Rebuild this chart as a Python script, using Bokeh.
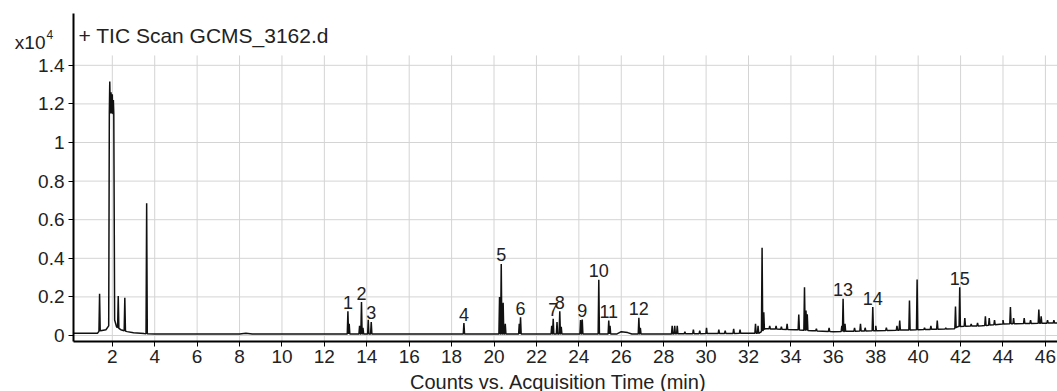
import numpy as np
from bokeh.plotting import figure
from bokeh.models import Range1d, FixedTicker, NumeralTickFormatter, Label, LinearAxis
from bokeh.embed import file_html
from bokeh.resources import INLINE
from bokeh.core.properties import value

# ---- data (time in min, counts in x10^4) ----
baseline_time = [0.17, 1.30, 1.36, 1.45, 1.70, 1.83, 1.86, 2.07, 2.11, 2.20, 2.40, 2.70,
                 3.00, 3.50, 4.00, 8.00, 8.30, 8.60, 13.0, 20.0, 25.8, 26.0, 26.3, 26.5,
                 28.0, 32.5, 32.8, 34.2, 35.0, 36.0, 38.0, 40.0, 41.7, 41.9, 43.0, 44.0, 46.6]
baseline_level = [0.012, 0.012, 0.02, 0.025, 0.03, 0.05, 1.15, 1.15, 0.08, 0.045, 0.03, 0.02,
                  0.014, 0.01, 0.008, 0.008, 0.011, 0.008, 0.008, 0.008, 0.008, 0.02, 0.015, 0.008,
                  0.008, 0.012, 0.035, 0.03, 0.025, 0.02, 0.025, 0.03, 0.035, 0.047, 0.05, 0.06, 0.065]

peak_time = [1.40, 1.88, 1.94, 2.00, 2.05, 2.28, 2.59, 3.62,
             13.11, 13.17, 13.66, 13.75, 13.82, 14.07, 14.21, 18.58,
             20.26, 20.34, 20.43, 20.53, 21.19, 21.25, 22.72, 22.79, 22.97, 23.10, 23.17,
             24.08, 24.16, 24.94, 25.41, 25.47, 26.83, 26.90, 28.40, 28.52, 28.64,
             29.00, 29.40, 29.70, 30.02, 30.60, 30.90, 31.30, 31.60, 32.33, 32.45, 32.64, 32.72,
             33.00, 33.30, 33.55, 33.82, 34.37, 34.64, 34.71, 34.77, 35.20, 35.80,
             36.40, 36.46, 36.55, 37.00, 37.28, 37.50, 37.86, 38.00, 38.50, 39.00, 39.13,
             39.59, 39.95, 40.30, 40.60, 40.90, 41.30, 41.76, 41.96, 42.20, 42.50, 42.80,
             43.17, 43.35, 43.60, 44.00, 44.35, 44.50, 45.00, 45.30, 45.69, 45.80, 46.10, 46.40]
peak_height = [0.216, 1.316, 1.26, 1.25, 1.22, 0.204, 0.195, 0.685,
               0.126, 0.06, 0.05, 0.173, 0.04, 0.081, 0.07, 0.064,
               0.20, 0.371, 0.17, 0.06, 0.06, 0.095, 0.05, 0.086, 0.07, 0.126, 0.045,
               0.08, 0.083, 0.289, 0.078, 0.05, 0.092, 0.04, 0.05, 0.05, 0.05,
               0.02, 0.03, 0.025, 0.04, 0.03, 0.025, 0.035, 0.03, 0.06, 0.05, 0.454, 0.12,
               0.05, 0.05, 0.045, 0.06, 0.109, 0.25, 0.13, 0.11, 0.035, 0.04,
               0.05, 0.19, 0.06, 0.04, 0.06, 0.04, 0.147, 0.05, 0.04, 0.05, 0.078,
               0.181, 0.29, 0.04, 0.05, 0.077, 0.04, 0.15, 0.25, 0.09, 0.06, 0.065,
               0.10, 0.09, 0.08, 0.08, 0.147, 0.09, 0.09, 0.08, 0.135, 0.10, 0.08, 0.08]

annot_text = [str(i) for i in range(1, 16)]
annot_time = [13.11, 13.75, 14.21, 18.58, 20.34, 21.25, 22.79, 23.10, 24.16, 24.94,
              25.41, 26.83, 36.46, 37.86, 41.96]

x_ticks = list(range(2, 48, 2))
y_ticks = [0, 0.2, 0.4, 0.6, 0.8, 1.0, 1.2, 1.4]

# ---- build trace: baseline knots + narrow triangular peaks ----
half = 0.03
bt = np.array(baseline_time)
bl = np.array(baseline_level)
pts = list(zip(baseline_time, baseline_level))
for t, h in zip(peak_time, peak_height):
    pts.append((t - half, float(np.interp(t - half, bt, bl))))
    pts.append((t, h))
    pts.append((t + half, float(np.interp(t + half, bt, bl))))
pts.sort(key=lambda v: v[0])
trace_t = [v[0] for v in pts]
trace_y = [v[1] for v in pts]

height_of = dict(zip(peak_time, peak_height))
annot_height = [height_of[t] for t in annot_time]

# ---- figure: frame covers the whole canvas, axes at fixed locations ----
FONT = "Liberation Sans"
TXT = "#222222"
x_axis_start, x_axis_end = 0.17, 46.57
y_axis_start, y_axis_end = -0.0295, 1.668
grid_top = 1.451

p = figure(width=1057, height=391,
           x_range=Range1d(-3.272, 46.57), y_range=Range1d(-0.2902, 1.7358),
           x_axis_type=None, y_axis_type=None,
           output_backend="svg", toolbar_location=None,
           min_border_left=0, min_border_right=0, min_border_top=0, min_border_bottom=0)
p.outline_line_color = None
p.background_fill_color = "white"
p.border_fill_color = "white"
p.xgrid.visible = False
p.ygrid.visible = False

# grid lines (only inside the plotting area)
p.segment(x0=x_ticks, y0=[y_axis_start] * len(x_ticks), x1=x_ticks, y1=[grid_top] * len(x_ticks),
          line_color="#d4d4d4", line_width=1)
p.segment(x0=[x_axis_start] * len(y_ticks), y0=y_ticks, x1=[x_axis_end] * len(y_ticks), y1=y_ticks,
          line_color="#d4d4d4", line_width=1)

xaxis = LinearAxis(fixed_location=y_axis_start, bounds=(x_axis_start, x_axis_end),
                   ticker=FixedTicker(ticks=x_ticks))
yaxis = LinearAxis(fixed_location=x_axis_start, bounds=(y_axis_start, y_axis_end),
                   ticker=FixedTicker(ticks=y_ticks),
                   formatter=NumeralTickFormatter(format="0.[0]"))
for ax in (xaxis, yaxis):
    ax.axis_line_color = "black"
    ax.axis_line_width = 2
    ax.major_tick_line_color = "black"
    ax.major_tick_line_width = 1
    ax.major_tick_in = 0
    ax.major_tick_out = 5
    ax.minor_tick_line_color = None
    ax.major_label_text_font = FONT
    ax.major_label_text_font_size = "19px"
    ax.major_label_text_color = TXT
    ax.major_label_standoff = 4
p.add_layout(xaxis, "below")
p.add_layout(yaxis, "left")

p.line(trace_t, trace_y, line_color="#111111", line_width=1.5)

p.text(x=annot_time, y=annot_height, text=annot_text, text_align="center",
       text_baseline="alphabetic", y_offset=-9, text_font=value(FONT),
       text_font_size="18px", text_color=TXT)

p.add_layout(Label(x=78, y=356, x_units="screen", y_units="screen", text="+ TIC Scan GCMS_3162.d",
                   text_baseline="middle", text_font=FONT, text_font_size="21px", text_color=TXT))
p.add_layout(Label(x=45, y=349, x_units="screen", y_units="screen", text="x10",
                   text_align="right", text_baseline="middle", text_font=FONT,
                   text_font_size="19px", text_color=TXT))
p.add_layout(Label(x=46, y=357, x_units="screen", y_units="screen", text="4",
                   text_align="left", text_baseline="middle", text_font=FONT,
                   text_font_size="12px", text_color=TXT))
p.add_layout(Label(x=558, y=10, x_units="screen", y_units="screen",
                   text="Counts vs. Acquisition Time (min)", text_align="center",
                   text_baseline="middle", text_font=FONT, text_font_size="20px",
                   text_color=TXT))

open("out.html", "w").write(file_html(p, INLINE))
